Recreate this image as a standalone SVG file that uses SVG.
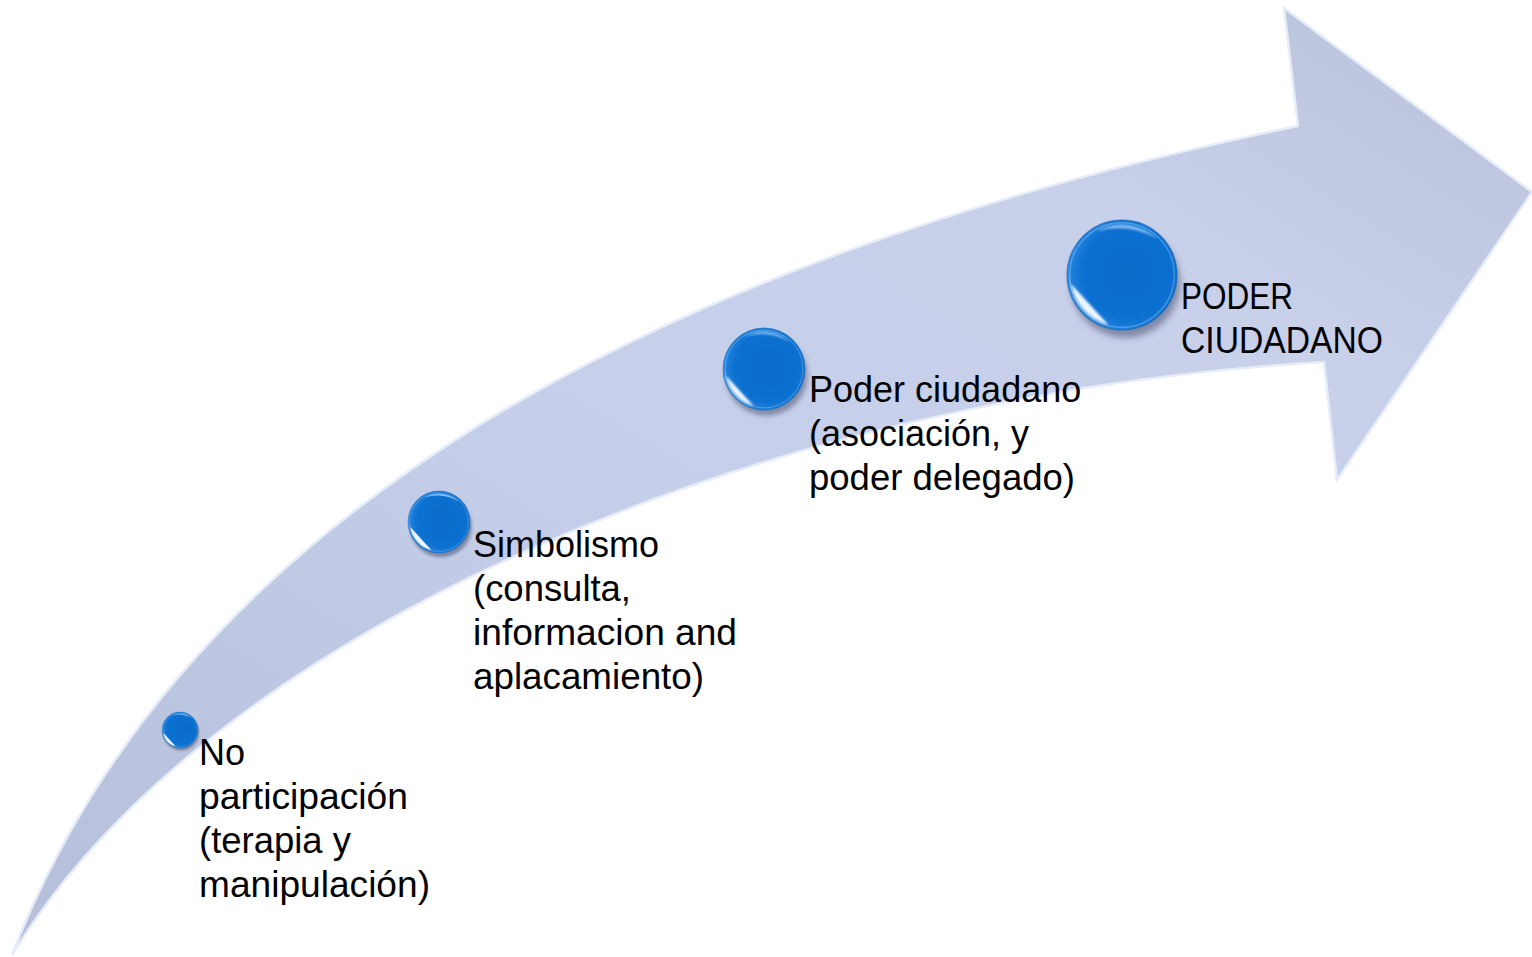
<svg xmlns="http://www.w3.org/2000/svg" xmlns:xlink="http://www.w3.org/1999/xlink" width="1532" height="957" viewBox="0 0 1532 957">
<style>
.lbl{font-family:"Liberation Sans",Arial,sans-serif;font-size:36px;fill:#000;}
</style>
<defs>
<linearGradient id="arrowFill" x1="0" y1="1" x2="1" y2="0">
<stop offset="0" stop-color="#b6bfd9"/>
<stop offset="0.45" stop-color="#c6cfe9"/>
<stop offset="0.75" stop-color="#c8d0ea"/>
<stop offset="1" stop-color="#b9c1da"/>
</linearGradient>
<radialGradient id="sph" cx="0.56" cy="0.48" r="0.56">
<stop offset="0" stop-color="#0a6bc8"/>
<stop offset="0.75" stop-color="#0b70d0"/>
<stop offset="0.93" stop-color="#1f80dc"/>
<stop offset="1" stop-color="#3a92e4"/>
</radialGradient>
<filter id="blur" x="-50%" y="-50%" width="200%" height="200%">
<feGaussianBlur stdDeviation="3"/>
</filter>
<filter id="soft" x="-50%" y="-50%" width="200%" height="200%">
<feGaussianBlur stdDeviation="1.1"/>
</filter>
<g id="sphere">
<circle cx="3" cy="7" r="50" fill="#2a3558" opacity="0.45" filter="url(#blur)"/>
<circle r="50" fill="url(#sph)"/>
<circle r="50" fill="none" stroke="#0b5cad" stroke-width="1" opacity="0.6"/>
<circle r="47.5" fill="none" stroke="#8cc6f5" stroke-width="1.2" opacity="0.45"/>
<path d="M -23,-39.8 A 46 46 0 0 1 32.5,-32.5 A 70 70 0 0 0 -23,-39.8 Z" fill="#a8d4fa" opacity="0.75" filter="url(#soft)"/>
<path d="M -46.3,8.2 A 47 47 0 0 0 -12.2,45.4 L -46.3,8.2 Z" fill="#ffffff" opacity="0.92" filter="url(#soft)"/>
<path d="M -48,0 A 48 48 0 0 0 -20,43.6 A 60 60 0 0 1 -48,0 Z" fill="#9fd0ff" opacity="0.4"/>
</g>
</defs>
<rect width="1532" height="957" fill="#ffffff"/>
<g id="arrow">
<path d="M 12,955 C 180,520 650,260 1298,126 L 1284,8 L 1532,192 L 1337,480 L 1324,362 C 760,395 210,630 12,955 Z" fill="url(#arrowFill)" stroke="#e6ecf8" stroke-width="2.5" stroke-linejoin="miter"/>
</g>
<g id="connectors"></g>
<g id="node-1">
<use xlink:href="#sphere" href="#sphere" transform="translate(180,730) scale(0.36)"/>
<text class="lbl" x="199" y="765">No</text>
<text class="lbl" x="199" y="809" textLength="209" lengthAdjust="spacingAndGlyphs">participación</text>
<text class="lbl" x="199" y="853" textLength="152" lengthAdjust="spacingAndGlyphs">(terapia y</text>
<text class="lbl" x="199" y="897" textLength="231" lengthAdjust="spacingAndGlyphs">manipulación)</text>
</g>
<g id="node-2">
<use xlink:href="#sphere" href="#sphere" transform="translate(439,522) scale(0.62)"/>
<text class="lbl" x="473" y="557">Simbolismo</text>
<text class="lbl" x="473" y="601" textLength="158" lengthAdjust="spacingAndGlyphs">(consulta,</text>
<text class="lbl" x="473" y="645" textLength="264" lengthAdjust="spacingAndGlyphs">informacion and</text>
<text class="lbl" x="473" y="689" textLength="231" lengthAdjust="spacingAndGlyphs">aplacamiento)</text>
</g>
<g id="node-3">
<use xlink:href="#sphere" href="#sphere" transform="translate(764,369) scale(0.82)"/>
<text class="lbl" x="809" y="402">Poder ciudadano</text>
<text class="lbl" x="809" y="446">(asociación, y</text>
<text class="lbl" x="809" y="490" textLength="266" lengthAdjust="spacingAndGlyphs">poder delegado)</text>
</g>
<g id="node-4">
<use xlink:href="#sphere" href="#sphere" transform="translate(1122,275) scale(1.1)"/>
<text class="lbl" x="1181" y="309" textLength="112" lengthAdjust="spacingAndGlyphs">PODER</text>
<text class="lbl" x="1181" y="353" textLength="202" lengthAdjust="spacingAndGlyphs">CIUDADANO</text>
</g>
</svg>
